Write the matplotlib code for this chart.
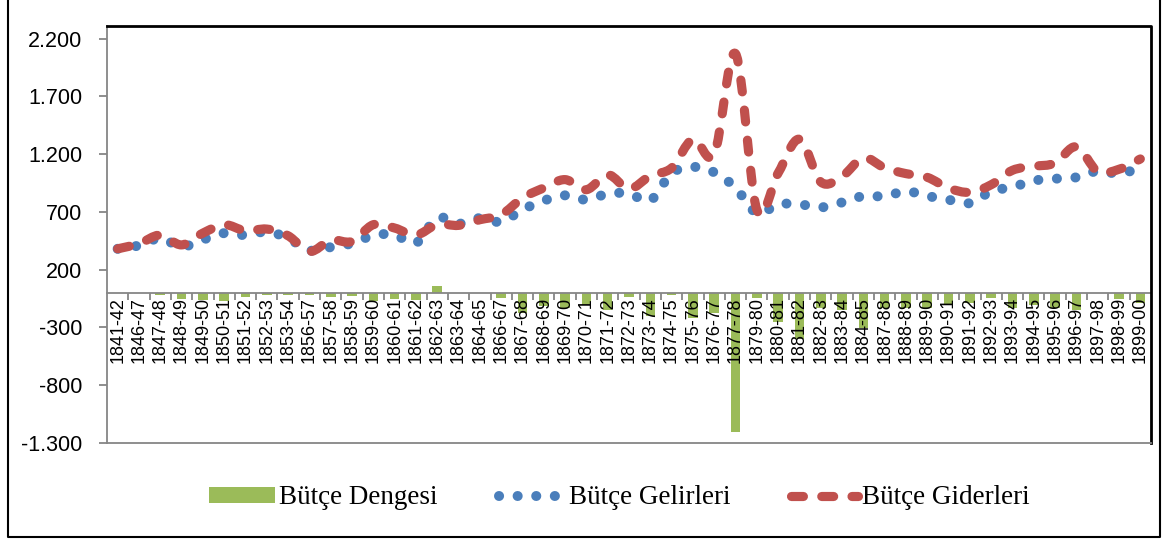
import matplotlib

matplotlib.use("Agg")

import matplotlib.pyplot as plt
from matplotlib.lines import Line2D
from matplotlib.patches import Patch, PathPatch
from matplotlib.path import Path

plt.rcParams["font.family"] = "Liberation Sans"

years = [
    "1841-42", "1846-47", "1847-48", "1848-49", "1849-50", "1850-51", "1851-52",
    "1852-53", "1853-54", "1856-57", "1857-58", "1858-59", "1859-60", "1860-61",
    "1861-62", "1862-63", "1863-64", "1864-65", "1866-67", "1867-68", "1868-69",
    "1869-70", "1870-71", "1871-72", "1872-73", "1873-74", "1874-75", "1875-76",
    "1876-77", "1877-78", "1879-80", "1880-81", "1881-82", "1882-83", "1883-84",
    "1884-85", "1887-88", "1888-89", "1889-90", "1890-91", "1891-92", "1892-93",
    "1893-94", "1894-95", "1895-96", "1896-97", "1897-98", "1898-99", "1899-00",
]

# Bütçe Gelirleri (revenues)
gelir = [
    381, 410, 472, 400, 460, 517, 500, 529, 474, 367, 396, 428, 498, 503,
    431, 650, 598, 647, 615, 720, 798, 844, 806, 858, 860, 800, 1036, 1090,
    1043, 910, 691, 766, 766, 740, 783, 838, 836, 879, 838, 806, 777, 879,
    916, 971, 988, 1000, 1055, 1032, 1081,
]

# Bütçe Giderleri (expenditures)
gider = [
    381, 425, 500, 415, 517, 590, 537, 552, 494, 358, 455, 445, 590, 561,
    500, 592, 584, 633, 676, 821, 908, 980, 893, 1023, 900, 1014, 1081, 1330,
    1200, 2070, 720, 1037, 1330, 960, 1008, 1168, 1081, 1032, 1000, 907, 870, 936,
    1061, 1095, 1124, 1265, 1050, 1070, 1159,
]

# Bütçe Dengesi (balance)
denge = [
    0, 0, -23, -55, -61, -75, -38, -20, -20, -17, -38, -26, -75, -55,
    -66, 60, 0, 0, -46, -176, -118, -133, -104, -147, -32, -199, -17, -220,
    -176, -1205, -46, -250, -400, -133, -147, -306, -133, -133, -133, -104, -84, -46,
    -133, -104, -133, -147, 0, -55, -84,
]

yticks = [-1300, -800, -300, 200, 700, 1200, 1700, 2200]
ytick_labels = ["-1.300", "-800", "-300", "200", "700", "1.200", "1.700", "2.200"]

GREEN = "#9BBB59"
BLUE = "#4A7EBB"
RED = "#C0504D"
GRAY = "#868686"


def smooth_path(xs, ys):
    # Excel-like smoothed line: cubic Bezier segments through every data point
    n = len(xs)
    verts = [(xs[0], ys[0])]
    codes = [Path.MOVETO]
    for i in range(n - 1):
        a = max(i - 1, 0)
        b = min(i + 2, n - 1)
        c1 = (xs[i] + (xs[i + 1] - xs[a]) / 6, ys[i] + (ys[i + 1] - ys[a]) / 6)
        c2 = (xs[i + 1] - (xs[b] - xs[i]) / 6, ys[i + 1] - (ys[b] - ys[i]) / 6)
        verts += [c1, c2, (xs[i + 1], ys[i + 1])]
        codes += [Path.CURVE4] * 3
    return Path(verts, codes)


fig = plt.figure(figsize=(11.66, 5.42), dpi=100)
ax = fig.add_axes([107 / 1166, 1 - 443 / 542, 1044 / 1166, 417 / 542])

x = list(range(len(years)))
ax.bar(x, denge, width=0.45, color=GREEN, zorder=1)

blue_style = dict(lw=7.2, ls=(0, (0.01, 1.85)))
red_style = dict(lw=6.6, ls=(0, (1.3, 2.0)))

ax.add_patch(PathPatch(smooth_path(x, gelir), fill=False, edgecolor=BLUE,
                       linewidth=blue_style["lw"], linestyle=blue_style["ls"],
                       capstyle="round", joinstyle="round", zorder=2))
ax.add_patch(PathPatch(smooth_path(x, gider), fill=False, edgecolor=RED,
                       linewidth=red_style["lw"], linestyle=red_style["ls"],
                       capstyle="round", joinstyle="round", zorder=2.1))

ax.set_xlim(-0.5, len(years) - 0.5)
ax.set_ylim(-1300, 2310)

# category axis sits at zero, labels just below it
ax.spines["bottom"].set_position(("data", 0))
ax.spines["bottom"].set_color(GRAY)
ax.spines["bottom"].set_linewidth(1.3)
ax.spines["left"].set_color(GRAY)
ax.spines["left"].set_linewidth(1.3)
ax.spines["top"].set_visible(False)
ax.spines["right"].set_visible(False)

ax.set_xticks(x)
ax.set_xticklabels(years, rotation=90, fontsize=13)
ax.set_xticks([i - 0.5 for i in range(1, len(years))], minor=True)
ax.tick_params(axis="x", which="major", length=0, pad=3)
ax.tick_params(axis="x", which="minor", length=5, width=1.3, color=GRAY, direction="out")

ax.set_yticks(yticks)
ax.set_yticklabels(ytick_labels, fontsize=15.5)
ax.tick_params(axis="y", length=6, width=1.3, color=GRAY, pad=12)

# plot area frame: black top/right, gray bottom
ax.plot([0, 1, 1], [1, 1, 0], transform=ax.transAxes, color="black", lw=2, clip_on=False, zorder=5)
ax.plot([0, 1], [0, 0], transform=ax.transAxes, color=GRAY, lw=1.3, clip_on=False, zorder=5)

handles = [
    Patch(facecolor=GREEN, edgecolor="none"),
    Line2D([], [], color=BLUE, linewidth=blue_style["lw"], linestyle=blue_style["ls"], dash_capstyle="round"),
    Line2D([], [], color=RED, linewidth=red_style["lw"], linestyle=red_style["ls"], dash_capstyle="round"),
]
fig.legend(handles, ["Bütçe Dengesi", "Bütçe Gelirleri", "Bütçe Giderleri"],
           loc="center", bbox_to_anchor=(0.531, 1 - 498 / 542), ncol=3, frameon=False,
           prop={"family": "Liberation Serif", "size": 19.5},
           handlelength=2.45, handleheight=0.5, handletextpad=0.15, columnspacing=2.25)

# outer chart border
fig.add_artist(Line2D([8 / 1166, 8 / 1166, 1160 / 1166, 1160 / 1166],
                      [1.0, 1 - 537 / 542, 1 - 537 / 542, 1.0],
                      transform=fig.transFigure, color="black", lw=1.5))

fig.savefig("out.png", dpi=100)
